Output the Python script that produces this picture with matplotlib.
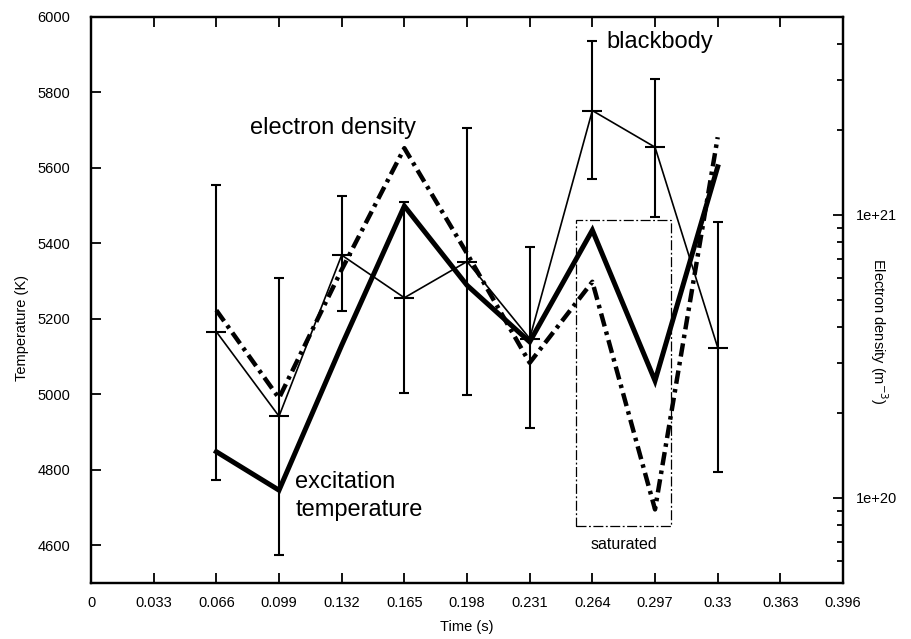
import matplotlib
matplotlib.use("Agg")
import matplotlib.pyplot as plt
from matplotlib.patches import Rectangle
from matplotlib.ticker import FixedLocator, NullFormatter, LogLocator

plt.rcParams['font.family'] = ['Liberation Sans', 'DejaVu Sans']

# Data
time_s = [0.066, 0.099, 0.132, 0.165, 0.198, 0.231, 0.264, 0.297, 0.33]
blackbody_T = [5166, 4942, 5369, 5256, 5352, 5148, 5752, 5655, 5124]
blackbody_lo = [4773, 4574, 5221, 5003, 4997, 4910, 5571, 5471, 4794]
blackbody_hi = [5555, 5309, 5526, 5509, 5706, 5391, 5937, 5837, 5456]
excitation_T = [4848, 4746, 5130, 5499, 5289, 5139, 5435, 5036, 5603]
electron_density = [4.6e20, 2.25e20, 6.4e20, 1.72e21, 7.3e20, 3.0e20, 5.8e20, 9.1e19, 1.88e21]

x_ticks = [0, 0.033, 0.066, 0.099, 0.132, 0.165, 0.198, 0.231, 0.264, 0.297, 0.33, 0.363, 0.396]
x_labels = ['0', '0.033', '0.066', '0.099', '0.132', '0.165', '0.198', '0.231', '0.264',
            '0.297', '0.33', '0.363', '0.396']
y_ticks = [4600, 4800, 5000, 5200, 5400, 5600, 5800, 6000]
y2_ticks = [1e20, 1e21]
y2_labels = ['1e+20', '1e+21']

# saturated region (time range, temperature range)
sat_t = (0.2555, 0.3055)
sat_T = (4650, 5462)

fig = plt.figure(figsize=(9.11, 6.39), dpi=100)
ax = fig.add_axes([0.0999, 0.0876, 0.8255, 0.8858])
ax2 = ax.twinx()

lo_err = [t - l for t, l in zip(blackbody_T, blackbody_lo)]
hi_err = [h - t for t, h in zip(blackbody_T, blackbody_hi)]
ax.errorbar(time_s, blackbody_T, yerr=[lo_err, hi_err], color='black', lw=1.2,
            elinewidth=1.5, capsize=3.5, capthick=1.5, marker='_', markersize=14,
            markeredgewidth=1.5, zorder=3)
ax.plot(time_s, excitation_T, color='black', lw=3.6, solid_joinstyle='miter', zorder=4)
ax2.plot(time_s, electron_density, color='black', lw=3.2,
         linestyle=(0, (3.0, 1.2, 0.8, 1.2)), zorder=4)

ax.add_patch(Rectangle((sat_t[0], sat_T[0]), sat_t[1] - sat_t[0], sat_T[1] - sat_T[0],
                       fill=False, lw=0.9, linestyle=(0, (8, 2, 1.5, 2)), color='black'))

ax.set_xlim(0, 0.396)
ax.set_ylim(4500, 6000)
ax.set_xticks(x_ticks)
ax.set_xticklabels(x_labels)
ax.set_yticks(y_ticks)
ax.tick_params(axis='both', direction='in', length=7, width=1.3, labelsize=10.5)
ax.tick_params(axis='x', top=True, pad=9)
ax.tick_params(axis='y', right=False, pad=15)

ax2.set_yscale('log')
ax2.set_ylim(5e19, 5e21)
ax2.yaxis.set_major_locator(FixedLocator(y2_ticks))
ax2.set_yticklabels(y2_labels)
ax2.yaxis.set_minor_locator(LogLocator(base=10, subs=range(2, 10)))
ax2.yaxis.set_minor_formatter(NullFormatter())
ax2.tick_params(axis='y', which='major', direction='in', length=7, width=1.3,
                labelsize=10.5, pad=9)
ax2.tick_params(axis='y', which='minor', direction='in', length=4, width=1.3)

for a in (ax, ax2):
    for s in a.spines.values():
        s.set_linewidth(1.6)

ax.set_xlabel('Time (s)', fontsize=10.5, va='center')
ax.xaxis.set_label_coords(0.5, -0.078)
ax.set_ylabel('Temperature (K)', fontsize=10.5, va='center')
ax.yaxis.set_label_coords(-0.092, 0.45)
ax2.set_ylabel('Electron density (m$^{-3}$)', fontsize=10.5, rotation=-90, va='center')
ax2.yaxis.set_label_coords(1.047, 0.445)

ax.text(0.0838, 5706, 'electron density', fontsize=17, va='center', ha='left')
ax.text(0.2712, 5935, 'blackbody', fontsize=17, va='center', ha='left')
ax.text(0.1075, 4768, 'excitation', fontsize=17, va='center', ha='left')
ax.text(0.1075, 4693, 'temperature', fontsize=17, va='center', ha='left')
ax.text(0.2805, 4601, 'saturated', fontsize=11.5, va='center', ha='center')

fig.savefig('out.png', dpi=100)
